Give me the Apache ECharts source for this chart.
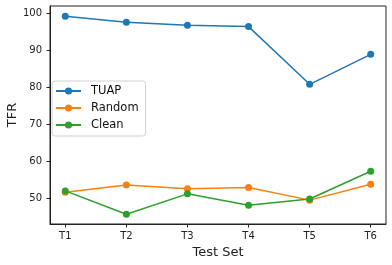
<!DOCTYPE html>
<html><head><meta charset="utf-8">
<script src="https://cdn.jsdelivr.net/npm/echarts@6/dist/echarts.min.js"></script>
<style>html,body{margin:0;padding:0;background:#fff}#c{width:392px;height:265px}</style>
</head><body><div id="c"></div>
<script>
const categories = ['T1','T2','T3','T4','T5','T6'];
const tuap = [99.2, 97.6, 96.8, 96.4, 80.8, 88.9];
const random = [51.6, 53.6, 52.6, 52.9, 49.5, 53.8];
const clean = [52.0, 45.7, 51.2, 48.1, 49.8, 57.3];
const yTicks = [50, 60, 70, 80, 90, 100];
const seriesNames = ['TUAP', 'Random', 'Clean'];
const colors = ['#1f77b4', '#ff7f0e', '#2ca02c'];

const font = 'DejaVu Sans';
const chart = echarts.init(document.getElementById('c'));
const mk = (name, vals, color) => ({
  name, type: 'line', data: vals.map((v, i) => [i, v]),
  symbol: 'circle', symbolSize: 7, showSymbol: true,
  lineStyle: { color, width: 1.5 }, itemStyle: { color },
  emphasis: { disabled: true }, animation: false
});
chart.setOption({
  animation: false,
  grid: { left: 50, right: 6, top: 6, bottom: 41, containLabel: false, outerBoundsMode: 'none', show: true, borderColor: '#222', borderWidth: 1, backgroundColor: 'transparent' },
  legend: {
    orient: 'vertical', left: 52, top: 81,
    data: seriesNames,
    itemWidth: 25, itemHeight: 9, itemGap: 5,
    padding: [4, 7, 5, 3],
    borderColor: '#d0d0d0', borderWidth: 1, borderRadius: 3,
    backgroundColor: 'rgba(255,255,255,0.8)',
    textStyle: { fontFamily: font, fontSize: 11.5, color: '#111', padding: [0, 0, 0, 5] }
  },
  xAxis: {
    type: 'value', min: -0.25, max: 5.25,
    name: 'Test Set', nameLocation: 'middle', nameGap: 22, nameMoveOverlap: false,
    nameTextStyle: { fontFamily: font, fontSize: 13, color: '#222' },
    axisLine: { show: true, onZero: false, lineStyle: { color: '#222', width: 1 } },
    axisTick: { show: true, length: 3.5, customValues: categories.map((c, i) => i), lineStyle: { color: '#222' } },
    axisLabel: { customValues: categories.map((c, i) => i), formatter: v => categories[Math.round(v)] || '', fontFamily: font, fontSize: 10, color: '#222', margin: 7 },
    splitLine: { show: false }
  },
  yAxis: {
    type: 'value', min: 43.05, max: 101.97,
    name: 'TFR', nameLocation: 'middle', nameGap: 31, nameMoveOverlap: false,
    nameTextStyle: { fontFamily: font, fontSize: 13, color: '#222' },
    axisLine: { show: true, onZero: false, lineStyle: { color: '#222', width: 1 } },
    axisTick: { show: true, length: 3.5, customValues: yTicks, lineStyle: { color: '#222' } },
    axisLabel: { customValues: yTicks, fontFamily: font, fontSize: 10, color: '#222', margin: 8 },
    splitLine: { show: false }
  },
  series: [mk(seriesNames[0], tuap, colors[0]), mk(seriesNames[1], random, colors[1]), mk(seriesNames[2], clean, colors[2])]
});
</script></body></html>
